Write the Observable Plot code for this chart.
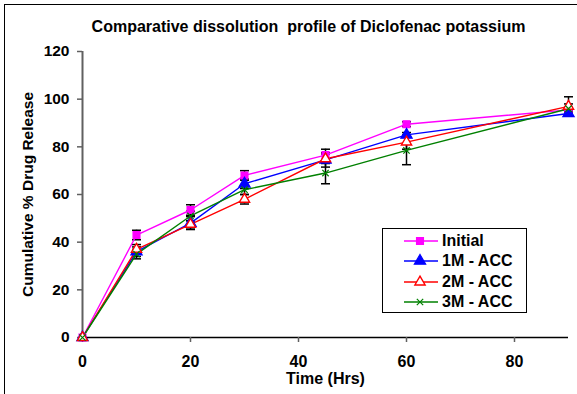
<!DOCTYPE html>
<html>
<head>
<meta charset="utf-8">
<script src="https://cdn.jsdelivr.net/npm/d3@7"></script>
<script src="https://cdn.jsdelivr.net/npm/@observablehq/plot@0.6"></script>
<style>
  body { margin: 0; background: #fff; font-family: Arial, "Liberation Sans", sans-serif; }
  #wrap { position: relative; width: 577px; height: 394px; overflow: hidden; background: #fff; }
  #frame { position: absolute; left: 4px; top: 4px; width: 600px; height: 420px; border: 1.5px solid #000; pointer-events: none; }
  #chart svg text { white-space: pre; }
  #legend { position: absolute; left: 382px; top: 228px; width: 145px; height: 85px; border: 1px solid #000; background: #fff; box-sizing: border-box; }
  .row { position: absolute; left: 0; height: 20px; display: flex; align-items: center; }
  .row svg { position: absolute; left: 21px; top: 0; }
  .row span { position: absolute; left: 59px; font: bold 16px Arial, "Liberation Sans", sans-serif; white-space: nowrap; line-height: 20px; }
</style>
</head>
<body>
<div id="wrap">
  <div id="chart"></div>
  <div id="frame"></div>
  <div id="legend"></div>
</div>
<script>
// Sampling times (hours)
const time = [0, 10, 20, 30, 45, 60, 90];

// Cumulative % drug released for each batch
const initial = [0, 43, 53.5, 68, 76.5, 89.5, 95.5];
const acc1M   = [0, 36, 48, 64.5, 74.5, 85, 94];
const acc2M   = [0, 37, 47.5, 58, 75, 82, 97];
const acc3M   = [0, 35, 51, 62, 69, 78.5, 96];

// Standard deviations
const sdInitial = [0, 2, 2.2, 2, 2.5, 1, 1];
const sd1M      = [0, 2, 2.7, 2, 3, 1, 1];
const sd2M      = [0, 2, 1.5, 2, 2, 3, 4];
const sd3M      = [0, 2, 2, 2, 4.5, 6, 2];

const seriesNames = ["Initial", "1M - ACC", "2M - ACC", "3M - ACC"];
const seriesColors = ["#ff00ff", "#0000ff", "#ff0000", "#008000"];
const yTicks = [0, 20, 40, 60, 80, 100, 120];
const xTicks = [0, 20, 40, 60, 80];

const title = "Comparative dissolution  profile of Diclofenac potassium";
const xLabel = "Time (Hrs)";
const yLabel = "Cumulative % Drug Release";

const valueSets = [initial, acc1M, acc2M, acc3M];
const sdSets = [sdInitial, sd1M, sd2M, sd3M];

const rows = [];
seriesNames.forEach((name, s) => {
  time.forEach((t, i) => {
    rows.push({series: name, t, v: valueSets[s][i], sd: sdSets[s][i]});
  });
});

// Horizontal cap drawn as a symbol so its width is in pixels
const cap = {
  draw(context, size) {
    const w = Math.sqrt(size / Math.PI);
    context.moveTo(-w, 0);
    context.lineTo(w, 0);
  }
};

const symbolFor = {"Initial": "square", "1M - ACC": "triangle", "2M - ACC": "triangle", "3M - ACC": "times"};
const fillFor = {"Initial": "#ff00ff", "1M - ACC": "#0000ff", "2M - ACC": "#ffffff", "3M - ACC": "none"};
const sizeFor = {"Initial": 3.9, "1M - ACC": 4.2, "2M - ACC": 3.8, "3M - ACC": 3};
const colorFor = Object.fromEntries(seriesNames.map((n, i) => [n, seriesColors[i]]));
const withSd = rows.filter(d => d.sd > 0);

const chart = Plot.plot({
  width: 577,
  height: 394,
  marginLeft: 82,
  marginRight: 9,
  marginTop: 51,
  marginBottom: 57,
  style: {fontFamily: "Arial, 'Liberation Sans', sans-serif", background: "transparent"},
  x: {domain: [0, 90]},
  y: {domain: [0, 120]},
  marks: [
    // axis lines
    Plot.ruleX([0], {y1: 0, y2: 120, stroke: "#606060", strokeWidth: 2}),
    Plot.ruleY([0], {x1: 0, x2: 90, stroke: "#000", strokeWidth: 1.5}),
    Plot.axisY({ticks: yTicks, tickSize: 5, tickPadding: 8, stroke: "#606060", strokeWidth: 1.5,
      fontSize: 15.5, fontWeight: "bold", fill: "#000", label: null, tickFormat: d => String(d)}),
    Plot.axisX({ticks: xTicks, tickSize: 5, tickPadding: 13, stroke: "#606060", strokeWidth: 1.5,
      fontSize: 16, fontWeight: "bold", fill: "#000", label: null, tickFormat: d => String(d)}),
    // error bars
    Plot.ruleX(withSd, {x: "t", y1: d => d.v - d.sd, y2: d => d.v + d.sd, stroke: "#000", strokeWidth: 1.5}),
    Plot.dot(withSd, {x: "t", y: d => d.v + d.sd, symbol: cap, r: 4.5, stroke: "#000", strokeWidth: 1.5}),
    Plot.dot(withSd, {x: "t", y: d => d.v - d.sd, symbol: cap, r: 4.5, stroke: "#000", strokeWidth: 1.5}),
    // series lines
    ...seriesNames.map(name =>
      Plot.line(rows.filter(d => d.series === name), {x: "t", y: "v", stroke: colorFor[name], strokeWidth: 1.4})
    ),
    // series markers
    ...seriesNames.map(name =>
      Plot.dot(rows.filter(d => d.series === name), {
        x: "t", y: "v",
        symbol: symbolFor[name],
        r: sizeFor[name],
        fill: fillFor[name],
        stroke: colorFor[name],
        strokeWidth: name === "2M - ACC" ? 1.4 : 1.2
      })
    ),
    // titles
    Plot.text([title], {frameAnchor: "top", dx: -17, dy: -31, fontSize: 16, fontWeight: "bold", fill: "#000"}),
    Plot.text([xLabel], {frameAnchor: "bottom", dy: 46, fontSize: 16, fontWeight: "bold", fill: "#000"}),
    Plot.text([yLabel], {frameAnchor: "left", textAnchor: "middle", dx: -54, rotate: -90, fontSize: 15.5, fontWeight: "bold", fill: "#000"})
  ]
});
document.getElementById("chart").appendChild(chart);

// Legend
const legend = document.getElementById("legend");
const symGen = {
  "square": d3.symbolSquare,
  "triangle": d3.symbolTriangle,
  "times": d3.symbolTimes
};
seriesNames.forEach((name, i) => {
  const row = document.createElement("div");
  row.className = "row";
  row.style.top = (1.5 + i * 20.5) + "px";
  const svg = d3.create("svg").attr("width", 36).attr("height", 20);
  svg.append("line").attr("x1", 0).attr("x2", 34).attr("y1", 10).attr("y2", 10)
    .attr("stroke", colorFor[name]).attr("stroke-width", 1.4);
  const r = sizeFor[name];
  svg.append("path")
    .attr("transform", "translate(16,10)")
    .attr("d", d3.symbol(symGen[symbolFor[name]], Math.PI * r * r)())
    .attr("fill", fillFor[name])
    .attr("stroke", colorFor[name])
    .attr("stroke-width", name === "2M - ACC" ? 1.4 : 1.2);
  row.appendChild(svg.node());
  const label = document.createElement("span");
  label.textContent = name;
  row.appendChild(label);
  legend.appendChild(row);
});
</script>
</body>
</html>
